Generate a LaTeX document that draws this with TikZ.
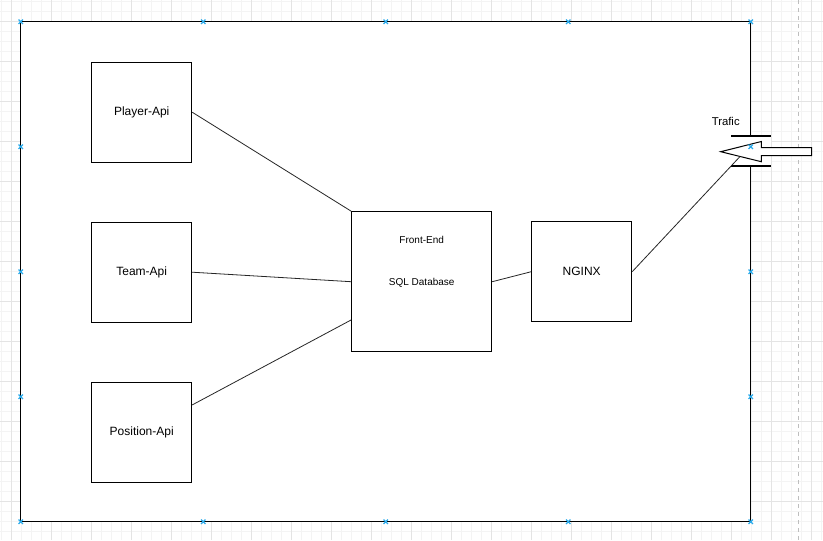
\documentclass[tikz,border=0pt]{standalone}
\usepackage{fontspec}
\setmainfont{Liberation Sans}
\usetikzlibrary{calc}

\definecolor{gridminor}{RGB}{244,244,244}
\definecolor{gridmajor}{RGB}{228,228,228}
\definecolor{pageline}{RGB}{190,190,190}
\definecolor{markblue}{RGB}{41,170,235}

\tikzset{every picture/.style={line width=0.75pt}}
\tikzset{
  apibox/.style={draw, fill=white, inner sep=0pt, minimum width=75pt, minimum height=75pt, font=\fontsize{9pt}{11pt}\selectfont},
  smalltext/.style={inner sep=0.75pt, font=\fontsize{7.5pt}{9pt}\selectfont},
  link/.style={draw=black!85, line width=0.6pt},
  hovermark/.style={markblue, line width=0.9pt},
}

\begin{document}
\begin{tikzpicture}[x=0.75pt,y=0.75pt,yscale=-1,xscale=1]
\useasboundingbox (0,0) rectangle (823,540);

%Background grid
\fill[white] (0,0) rectangle (823,540);
\foreach \gx in {1.7,11.7,...,821.7} \draw[gridminor, line width=0.5pt] (\gx,0) -- (\gx,540);
\foreach \gy in {1.7,11.7,...,531.7} \draw[gridminor, line width=0.5pt] (0,\gy) -- (823,\gy);
\foreach \gx in {11.7,51.7,...,811.7} \draw[gridmajor, line width=0.5pt] (\gx,0) -- (\gx,540);
\foreach \gy in {21.7,61.7,...,501.7} \draw[gridmajor, line width=0.5pt] (0,\gy) -- (823,\gy);
%Page border
\draw[pageline, dashed, line width=0.6pt] (798,0) -- (798,540);

%Shape: Rectangle (container)
\draw[fill=white] (20.7,21.7) rectangle (750.7,521.7);

% Boxes
\node[apibox] (player) at (141.7,112.2) {Player-Api};
\node[apibox] (team) at (141.7,272.2) {Team-Api};
\node[apibox] (position) at (141.7,432.2) {Position-Api};
\node[apibox, minimum width=105pt, minimum height=105pt] (frontend) at (421.7,281.7) {};
\node[smalltext] (fetitle) at (421.7,240) {Front-End};
\node[smalltext] (fedb) at (421.7,282.5) {SQL Database};
\node[apibox] (nginx) at (581.7,271.7) {NGINX};

% Traffic entry
\fill[white] (731,135.7) rectangle (770.7,165.7);
\draw[line width=1.6pt] (731,135.7) -- (770.7,135.7);
\draw[line width=1.6pt] (731,165.7) -- (770.7,165.7);
\draw[fill=white] (720.7,151.7) -- (761.3,141.5) -- (761.3,147.5) -- (811.7,147.5) -- (811.7,155.5) -- (761.3,155.5) -- (761.3,161.7) -- cycle;
\coordinate (trafin) at (740,156.5);
\node[inner sep=0.75pt, font=\fontsize{8.5pt}{10pt}\selectfont] (trafic) at (725.7,121.7) {Trafic};

% Connectors
\draw[link] (player.east) -- (frontend.north west);
\draw[link] (team.east) -- (frontend.west);
\draw[link] ($(position.north east)!0.23!(position.south east)$) -- ($(frontend.north west)!0.771!(frontend.south west)$);
\draw[link] (frontend.east) -- (nginx.west);
\draw[link] (nginx.east) -- (trafin);

% Hover markers
\foreach \mx/\my in {20.7/21.7,203.2/21.7,385.7/21.7,568.2/21.7,750.7/21.7,
                     20.7/521.7,203.2/521.7,385.7/521.7,568.2/521.7,750.7/521.7,
                     20.7/146.7,20.7/271.7,20.7/396.7,750.7/146.7,750.7/271.7,750.7/396.7}
  \draw[hovermark] (\mx-2.2,\my-2.2) -- (\mx+2.2,\my+2.2) (\mx-2.2,\my+2.2) -- (\mx+2.2,\my-2.2);
\end{tikzpicture}
\end{document}
